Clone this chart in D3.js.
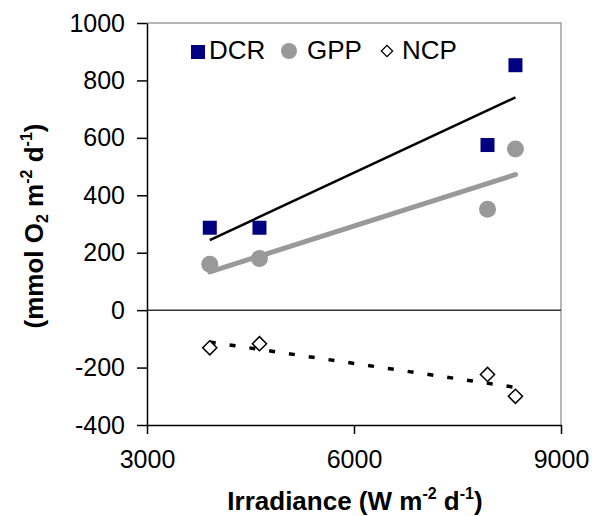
<!DOCTYPE html>
<html>
  <head>
    <meta charset="utf-8" />
    <title>Irradiance vs DCR GPP NCP</title>
    <style>
      html, body {
        margin: 0;
        padding: 0;
        background: white;
      }
      svg text {
        font-family: Arial, "Liberation Sans", sans-serif;
      }
    </style>
  </head>
  <body>
    <script src="https://d3js.org/d3.v7.min.js"></script>
    <script>
      var irradiance = [3910, 4630, 7935, 8340];
      var dcr = [287, 287, 575, 853];
      var gpp = [160, 180, 351, 561];
      var ncp = [-131, -117, -224, -300];

      // fitted lines, value at first and last irradiance
      var fitX = [3910, 8340];
      var dcrFit = [244, 741];
      var gppFit = [133, 472];
      var ncpFit = [-111, -269];

      var xTicks = [3000, 6000, 9000];
      var yTicks = [-400, -200, 0, 200, 400, 600, 800, 1000];

      var w = 592, h = 516;
      var mLeft = 147, mRight = 561, mTop = 23, mBottom = 425;

      var svg = d3.select("body").append("svg")
        .attr("width", w)
        .attr("height", h);

      var x = d3.scaleLinear().domain([3000, 9000]).range([mLeft, mRight]);
      var y = d3.scaleLinear().domain([-400, 1000]).range([mBottom, mTop]);

      // plot frame (gray top + right)
      svg.append("path")
        .attr("d", "M" + mLeft + "," + mTop + "H" + mRight + "V" + mBottom)
        .attr("fill", "none")
        .attr("stroke", "#a0a0a0")
        .attr("stroke-width", 1.5);

      // zero line
      svg.append("line")
        .attr("x1", mLeft).attr("x2", mRight)
        .attr("y1", y(0)).attr("y2", y(0))
        .attr("stroke", "#333")
        .attr("stroke-width", 1.5);

      // plain hyphen for negatives, like the original
      var plain = function(d) { return String(d); };

      var yAxis = d3.axisLeft(y).tickValues(yTicks).tickFormat(plain)
        .tickSize(10).tickSizeOuter(0).tickPadding(12);
      var gy = svg.append("g")
        .attr("transform", "translate(" + mLeft + ",0)")
        .call(yAxis);
      gy.selectAll("text").attr("font-size", 25).attr("fill", "black").style("font-family", "Arial");
      gy.selectAll("line, path").attr("stroke", "black").attr("stroke-width", 1.5);

      var xAxis = d3.axisBottom(x).tickValues(xTicks).tickFormat(plain)
        .tickSize(9).tickSizeOuter(0).tickPadding(16);
      var gx = svg.append("g")
        .attr("transform", "translate(0," + mBottom + ")")
        .call(xAxis);
      gx.selectAll("text").attr("font-size", 25).attr("fill", "black").style("font-family", "Arial");
      gx.selectAll("line, path").attr("stroke", "black").attr("stroke-width", 1.5);

      // trend lines
      var line = d3.line()
        .x(function(d, i) { return x(fitX[i]); })
        .y(function(d) { return y(d); });

      svg.append("path")
        .attr("d", line(gppFit))
        .attr("stroke", "#999999")
        .attr("stroke-width", 5)
        .attr("stroke-linecap", "round")
        .attr("fill", "none");

      svg.append("path")
        .attr("d", line(dcrFit))
        .attr("stroke", "black")
        .attr("stroke-width", 2.5)
        .attr("fill", "none");

      svg.append("path")
        .attr("d", line(ncpFit))
        .attr("stroke", "black")
        .attr("stroke-width", 3.5)
        .attr("stroke-dasharray", "6,14")
        .attr("fill", "none");

      // points
      svg.selectAll(".gpp")
        .data(gpp)
        .enter()
        .append("circle")
        .attr("class", "gpp")
        .attr("cx", function(d, i) { return x(irradiance[i]); })
        .attr("cy", function(d) { return y(d); })
        .attr("r", 8.5)
        .attr("fill", "#999999");

      svg.selectAll(".dcr")
        .data(dcr)
        .enter()
        .append("rect")
        .attr("class", "dcr")
        .attr("x", function(d, i) { return x(irradiance[i]) - 7; })
        .attr("y", function(d) { return y(d) - 7; })
        .attr("width", 14)
        .attr("height", 14)
        .attr("fill", "#000080");

      var diamond = d3.symbol().type(d3.symbolSquare).size(100);
      svg.selectAll(".ncp")
        .data(ncp)
        .enter()
        .append("path")
        .attr("class", "ncp")
        .attr("d", diamond)
        .attr("transform", function(d, i) {
          return "translate(" + x(irradiance[i]) + "," + y(d) + ") rotate(45)";
        })
        .attr("fill", "white")
        .attr("stroke", "black")
        .attr("stroke-width", 1.5);

      // legend
      var leg = svg.append("g");
      leg.append("rect")
        .attr("x", 191).attr("y", 45).attr("width", 14).attr("height", 14)
        .attr("fill", "#000080");
      leg.append("text").attr("x", 209).attr("y", 59).attr("font-size", 26).text("DCR");
      leg.append("circle")
        .attr("cx", 289).attr("cy", 51).attr("r", 8)
        .attr("fill", "#999999");
      leg.append("text").attr("x", 307).attr("y", 59).attr("font-size", 26).text("GPP");
      leg.append("path")
        .attr("d", d3.symbol().type(d3.symbolSquare).size(64))
        .attr("transform", "translate(387,51) rotate(45)")
        .attr("fill", "white")
        .attr("stroke", "black")
        .attr("stroke-width", 1.3);
      leg.append("text").attr("x", 402).attr("y", 59).attr("font-size", 26).text("NCP");

      // axis titles
      var xt = svg.append("text")
        .attr("x", 355)
        .attr("y", 510)
        .attr("text-anchor", "middle")
        .attr("font-size", 26)
        .attr("font-weight", "bold");
      xt.append("tspan").text("Irradiance (W m");
      xt.append("tspan").attr("font-size", 16).attr("dy", -11).text("-2");
      xt.append("tspan").attr("dy", 11).text(" d");
      xt.append("tspan").attr("font-size", 16).attr("dy", -11).text("-1");
      xt.append("tspan").attr("dy", 11).text(")");

      var yt = svg.append("text")
        .attr("transform", "translate(43,226) rotate(-90)")
        .attr("text-anchor", "middle")
        .attr("font-size", 26)
        .attr("font-weight", "bold");
      yt.append("tspan").text("(mmol O");
      yt.append("tspan").attr("font-size", 16).attr("dy", 5).text("2");
      yt.append("tspan").attr("dy", -5).text(" m");
      yt.append("tspan").attr("font-size", 16).attr("dy", -11).text("-2");
      yt.append("tspan").attr("dy", 11).text(" d");
      yt.append("tspan").attr("font-size", 16).attr("dy", -11).text("-1");
      yt.append("tspan").attr("dy", 11).text(")");
    </script>
  </body>
</html>
